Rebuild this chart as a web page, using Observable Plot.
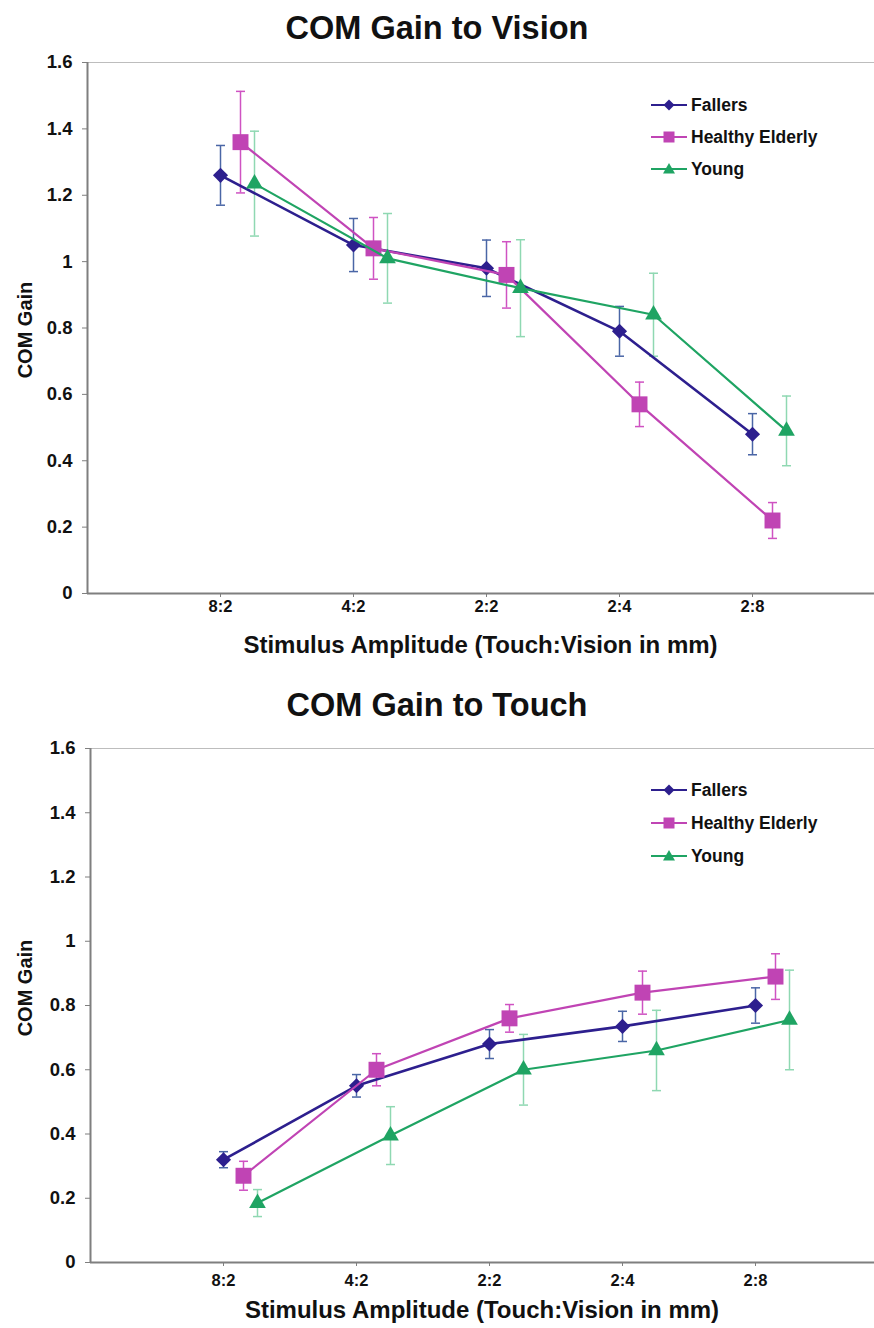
<!DOCTYPE html>
<html><head><meta charset="utf-8">
<script src="https://cdn.jsdelivr.net/npm/d3@7"></script>
<script src="https://cdn.jsdelivr.net/npm/@observablehq/plot@0.6"></script>
<style>
body{margin:0;background:#fff;font-family:"Liberation Sans",Arial,Helvetica,sans-serif;color:#111;}
#wrap{position:relative;width:874px;height:1328px;overflow:hidden;background:#fff;}
.abs{position:absolute;}
.title{left:0;width:874px;text-align:center;font-weight:bold;font-size:32.5px;line-height:40px;}
.xlab{text-align:center;font-weight:bold;font-size:24px;line-height:30px;}
.ylab{width:200px;text-align:center;font-weight:bold;font-size:20px;line-height:24px;transform:rotate(-90deg);transform-origin:50% 50%;}
.leg{display:flex;align-items:center;height:20px;font-weight:bold;font-size:17.5px;white-space:nowrap;}
.leg svg{margin-right:4px;}
svg.plot{position:absolute;left:0;}
</style></head>
<body><div id="wrap"></div>
<script>
// ---- data ----
const categories = ["8:2", "4:2", "2:2", "2:4", "2:8"];
const seriesNames = ["Fallers", "Healthy Elderly", "Young"];
const yTicks = [0, 0.2, 0.4, 0.6, 0.8, 1, 1.2, 1.4, 1.6];

// COM Gain to Vision
const visionFallers = [1.26, 1.05, 0.98, 0.79, 0.48];
const visionFallersErr = [0.09, 0.08, 0.085, 0.075, 0.062];
const visionHealthy = [1.36, 1.04, 0.96, 0.57, 0.22];
const visionHealthyErr = [0.153, 0.093, 0.1, 0.067, 0.054];
const visionYoung = [1.235, 1.01, 0.92, 0.84, 0.49];
const visionYoungErr = [0.158, 0.135, 0.146, 0.125, 0.105];

// COM Gain to Touch
const touchFallers = [0.32, 0.55, 0.68, 0.735, 0.80];
const touchFallersErr = [0.025, 0.035, 0.045, 0.047, 0.055];
const touchHealthy = [0.27, 0.60, 0.76, 0.84, 0.89];
const touchHealthyErr = [0.045, 0.05, 0.043, 0.067, 0.071];
const touchYoung = [0.185, 0.395, 0.60, 0.66, 0.755];
const touchYoungErr = [0.042, 0.09, 0.11, 0.125, 0.155];

// ---- styles ----
const styles = {
  "Fallers": {color: "#2d1f8e", err: "#4a66a6", symbol: "diamond2", r: 6.8, width: 2.6, dx: 0},
  "Healthy Elderly": {color: "#c044b4", err: "#cf52c2", symbol: "square", r: 9, width: 2.2, dx: 20},
  "Young": {color: "#1fa463", err: "#8fd8b2", symbol: "triangle", r: 6.2, width: 2.2, dx: 34}
};

const capSymbol = {draw(ctx) { ctx.moveTo(-4.5, 0); ctx.lineTo(4.5, 0); }};

function rows(values, errs, name) {
  return categories.map((c, i) => ({cat: c, pos: i + 1, value: values[i], err: errs[i], series: name}));
}

const wrap = document.getElementById("wrap");

function addDiv(cls, text, css) {
  const d = document.createElement("div");
  d.className = "abs " + cls;
  d.textContent = text;
  Object.assign(d.style, css);
  wrap.appendChild(d);
  return d;
}

function legendSwatch(name) {
  const s = styles[name];
  let marker;
  if (s.symbol === "diamond2") marker = `<polygon points="18,4.5 23.5,10 18,15.5 12.5,10" fill="${s.color}"/>`;
  else if (s.symbol === "square") marker = `<rect x="12.5" y="4.5" width="11" height="11" fill="${s.color}"/>`;
  else marker = `<polygon points="18,4 24,14.5 12,14.5" fill="${s.color}"/>`;
  return `<svg width="36" height="20"><line x1="0" y1="10" x2="36" y2="10" stroke="${s.color}" stroke-width="2"/>${marker}</svg>`;
}

function makeChart(data, o) {
  const marks = [
    Plot.ruleY([1.6], {stroke: "#bdbdbd", strokeWidth: 1.2}),
    Plot.axisY({ticks: yTicks, tickSize: 5, tickPadding: 10, tickFormat: d => String(+d.toFixed(1)),
      fontSize: 18.5, fontWeight: "bold", fill: "#111", stroke: "#7f7f7f", label: null}),
    Plot.axisX({ticks: categories.map((c, i) => i + 1), tickFormat: d => categories[d - 1], tickSize: 4,
      tickPadding: o.tickPadX, fontSize: 16.5, fontWeight: "bold", fill: "#111", stroke: "#7f7f7f", label: null}),
    Plot.ruleX([0], {stroke: "#7f7f7f", strokeWidth: 2}),
    Plot.ruleY([0], {stroke: "#7f7f7f", strokeWidth: 2})
  ];
  for (const name of seriesNames) {
    const s = styles[name];
    const d = data.filter(r => r.series === name);
    marks.push(
      Plot.ruleX(d, {x: "pos", y1: r => r.value - r.err, y2: r => r.value + r.err, stroke: s.err, strokeWidth: 1.5, dx: s.dx}),
      Plot.dot(d, {x: "pos", y: r => r.value + r.err, symbol: capSymbol, stroke: s.err, fill: "none", strokeWidth: 1.5, dx: s.dx}),
      Plot.dot(d, {x: "pos", y: r => r.value - r.err, symbol: capSymbol, stroke: s.err, fill: "none", strokeWidth: 1.5, dx: s.dx})
    );
  }
  for (const name of seriesNames) {
    const s = styles[name];
    const d = data.filter(r => r.series === name);
    marks.push(
      Plot.line(d, {x: "pos", y: "value", stroke: s.color, strokeWidth: s.width, dx: s.dx}),
      Plot.dot(d, {x: "pos", y: "value", symbol: s.symbol, r: s.r, fill: s.color, stroke: "none", dx: s.dx})
    );
  }
  const svg = Plot.plot({
    width: 874, height: o.height,
    marginTop: o.marginTop, marginBottom: o.marginBottom, marginLeft: o.marginLeft, marginRight: 0,
    style: {fontFamily: '"Liberation Sans", Arial, sans-serif', background: "transparent", overflow: "visible"},
    x: {type: "linear", domain: [0, o.xMax]},
    y: {domain: [0, 1.6]},
    marks
  });
  svg.classList.add("plot");
  svg.style.top = o.top + "px";
  wrap.appendChild(svg);

  addDiv("title", o.title, {top: (o.titleY - 20) + "px"});
  addDiv("xlab", "Stimulus Amplitude (Touch:Vision in mm)", {left: o.marginLeft + "px", width: (874 - o.marginLeft) + "px", top: (o.xlabY - 15) + "px"});
  addDiv("ylab", "COM Gain", {left: (o.ylabX - 100) + "px", top: (o.ylabY - 12) + "px"});
  seriesNames.forEach((name, i) => {
    const d = addDiv("leg", "", {left: "651px", top: (o.legY + i * o.legStep - 10) + "px"});
    d.innerHTML = legendSwatch(name) + `<span>${name}</span>`;
  });
}

const visionData = [
  ...rows(visionFallers, visionFallersErr, "Fallers"),
  ...rows(visionHealthy, visionHealthyErr, "Healthy Elderly"),
  ...rows(visionYoung, visionYoungErr, "Young")
];
const touchData = [
  ...rows(touchFallers, touchFallersErr, "Fallers"),
  ...rows(touchHealthy, touchHealthyErr, "Healthy Elderly"),
  ...rows(touchYoung, touchYoungErr, "Young")
];

makeChart(visionData, {title: "COM Gain to Vision", top: 0, height: 680, marginTop: 62, marginBottom: 87,
  marginLeft: 87, xMax: (874 - 87) / 133, tickPadX: 3, titleY: 28, xlabY: 645, ylabX: 25, ylabY: 330,
  legY: 105, legStep: 32});
makeChart(touchData, {title: "COM Gain to Touch", top: 680, height: 648, marginTop: 68, marginBottom: 66,
  marginLeft: 90, xMax: (874 - 90) / 133, tickPadX: 8, titleY: 705, xlabY: 1310, ylabX: 25, ylabY: 988,
  legY: 790, legStep: 33});
</script>
</body></html>
